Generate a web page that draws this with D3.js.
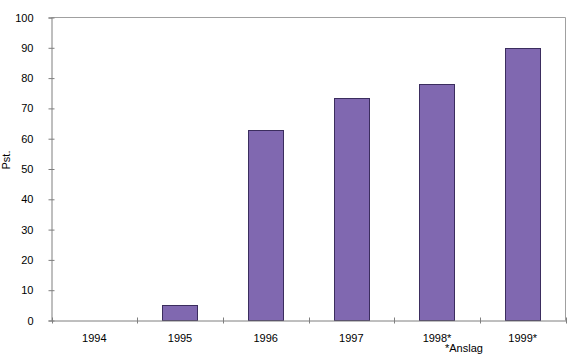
<!DOCTYPE html>
<html><head><meta charset="utf-8">
<script src="https://cdn.jsdelivr.net/npm/d3@7"></script>
<style>body{margin:0;background:#fff}svg{display:block}text{font-family:"Liberation Sans",Arial,Helvetica,sans-serif;font-size:11px;fill:#000}</style>
</head><body><svg id="c" width="574" height="358"></svg>
<script>
const categories = ["1994","1995","1996","1997","1998*","1999*"];
const values = [0, 5, 63, 73.5, 78, 90];
const yTicks = [0,10,20,30,40,50,60,70,80,90,100];
const yLabel = "Pst.";
const note = "*Anslag";

const svg = d3.select("#c");
const L = 51.5, R = 565.5, T = 17.5, B = 320.5;
const x = d3.scaleBand().domain(categories).range([L, R]).paddingInner(0).paddingOuter(0);
const y = d3.scaleLinear().domain([0, 100]).range([B, T]);
const axisColor = "#7f7f7f";

// frame top & right
svg.append("line").attr("x1", L).attr("x2", R).attr("y1", T).attr("y2", T).attr("stroke", "#a0a0a0");
svg.append("line").attr("x1", R).attr("x2", R).attr("y1", T).attr("y2", B).attr("stroke", "#a0a0a0");

// bars
const bw = x.bandwidth() * 0.41;
svg.selectAll("rect.bar").data(values).join("rect")
  .attr("class", "bar")
  .attr("x", (d, i) => Math.round(x(categories[i]) + x.bandwidth() / 2 - bw / 2) + 0.5)
  .attr("width", Math.round(bw))
  .attr("y", d => Math.round(y(d)) + 0.5)
  .attr("height", d => Math.max(0, B - Math.round(y(d)) - 0.5))
  .attr("fill", "#8068b0")
  .attr("stroke", "#3b2d5e")
  .attr("stroke-width", 1)
  .style("display", d => d > 0 ? null : "none");

// y axis
const yAxis = svg.append("g").attr("transform", `translate(${L},0)`)
  .call(d3.axisLeft(y).tickValues(yTicks).tickSize(3).tickPadding(15).tickFormat(d3.format("d")));
yAxis.select(".domain").attr("stroke", axisColor);
yAxis.selectAll(".tick line").attr("stroke", axisColor).attr("x2", 3).attr("x1", -3);
yAxis.selectAll(".tick text").attr("font-size", 11).attr("font-family", null).attr("fill", "#000");

// x axis
const xAxis = svg.append("g").attr("transform", `translate(0,${B})`)
  .call(d3.axisBottom(x).tickSize(0).tickPadding(0));
xAxis.select(".domain").attr("stroke", axisColor);
xAxis.selectAll(".tick text").attr("font-size", 11).attr("font-family", null).attr("fill", "#000").attr("dy", null).attr("y", 21.5);
const bounds = categories.map(c => x(c)).concat([R]);
svg.append("g").selectAll("line").data(bounds).join("line")
  .attr("x1", d => Math.round(d) + 0.5).attr("x2", d => Math.round(d) + 0.5)
  .attr("y1", B - 3).attr("y2", B + 3).attr("stroke", axisColor);

// y label
svg.append("text").attr("transform", "translate(10,160) rotate(-90)").attr("text-anchor", "middle").text(yLabel);

// note
svg.append("text").attr("x", 445).attr("y", 352).attr("text-anchor", "start").text(note);
</script></body></html>
